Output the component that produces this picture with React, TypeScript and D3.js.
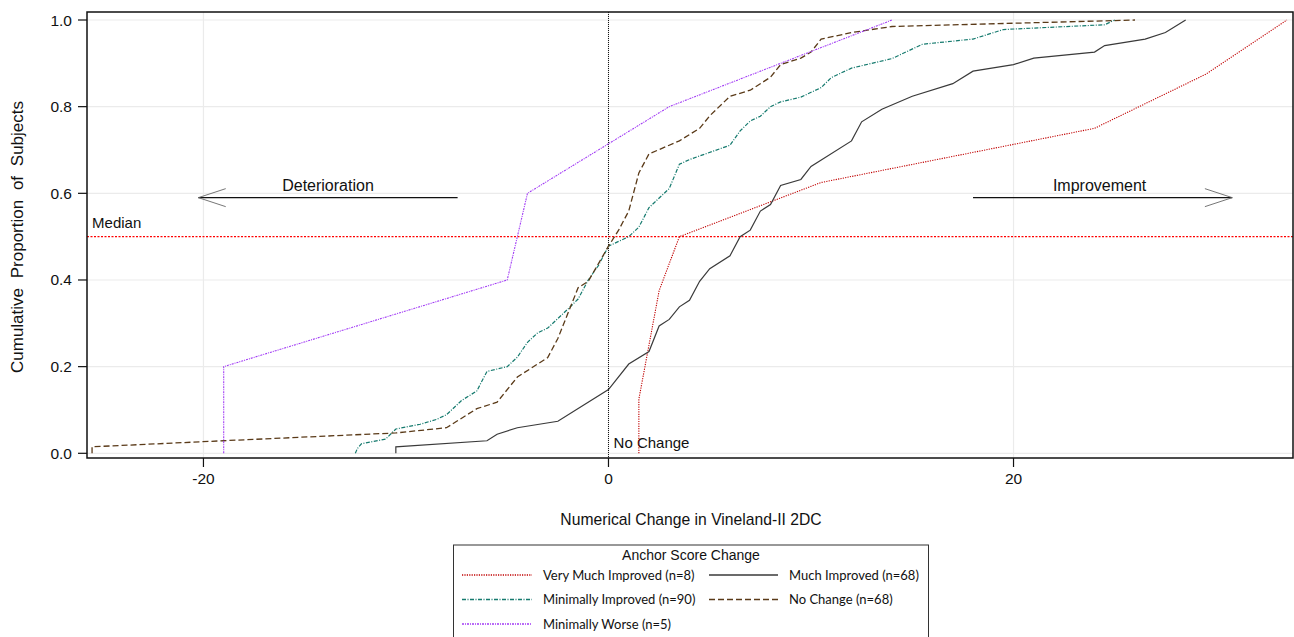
import React from 'react';
import * as d3 from 'd3';

// cumulative distribution by anchor group: change score vs cumulative proportion
const veryMuchX = [1.5, 1.5, 2.0, 2.5, 3.5, 10.5, 24.0, 29.5, 33.5];
const veryMuchY = [0, 0.125, 0.25, 0.375, 0.5, 0.625, 0.75, 0.875, 1.0];

const muchX = [-10.5, -10.5, -6.0, -5.5, -4.5, -2.5, 0, 1.0, 2.0, 2.5, 3.0, 3.5, 4.0, 4.5, 5.0, 6.0, 6.5, 7.0, 7.5, 8.0, 8.5, 9.5, 10.0, 12.0, 12.5, 13.5, 15.0, 17.0, 18.0, 20.0, 21.0, 24.0, 24.5, 26.5, 27.5, 28.5];
const muchY = [0, 0.015, 0.029, 0.044, 0.059, 0.074, 0.147, 0.206, 0.235, 0.294, 0.309, 0.338, 0.353, 0.397, 0.426, 0.456, 0.5, 0.515, 0.559, 0.574, 0.618, 0.632, 0.662, 0.721, 0.765, 0.794, 0.824, 0.853, 0.882, 0.897, 0.912, 0.926, 0.941, 0.956, 0.971, 1.0];

const minImpX = [-12.5, -12.4, -12.2, -11.0, -10.5, -9.3, -8.5, -8.0, -7.25, -6.5, -6.0, -5.0, -4.5, -4.0, -3.5, -3.0, -2.5, -2.0, -1.5, -1.0, -0.5, 0, 1.0, 1.5, 2.0, 3.0, 3.5, 4.0, 6.0, 6.5, 7.0, 7.5, 8.0, 8.5, 9.5, 10.5, 11.0, 12.0, 14.0, 15.5, 18.0, 19.5, 24.5, 25.0];
const minImpY = [0, 0.011, 0.022, 0.033, 0.056, 0.067, 0.078, 0.089, 0.122, 0.144, 0.189, 0.2, 0.222, 0.256, 0.278, 0.289, 0.311, 0.333, 0.356, 0.4, 0.433, 0.478, 0.5, 0.522, 0.567, 0.611, 0.667, 0.678, 0.711, 0.744, 0.767, 0.778, 0.8, 0.811, 0.822, 0.844, 0.867, 0.889, 0.911, 0.944, 0.956, 0.978, 0.989, 1.0];

const noChangeX = [-25.5, -25.5, -19.0, -10.5, -8.0, -6.5, -5.5, -4.5, -3.0, -2.5, -1.5, -1.0, 0, 0.5, 1.0, 1.5, 2.0, 3.5, 4.5, 5.0, 6.0, 7.0, 8.0, 8.5, 9.5, 10.0, 10.5, 12.0, 14.0, 26.0];
const noChangeY = [0, 0.015, 0.029, 0.047, 0.059, 0.103, 0.118, 0.176, 0.221, 0.265, 0.382, 0.397, 0.478, 0.515, 0.559, 0.647, 0.691, 0.721, 0.75, 0.779, 0.824, 0.838, 0.868, 0.897, 0.912, 0.926, 0.956, 0.971, 0.985, 1.0];

const minWorseX = [-19, -19, -5, -4, 3, 14];
const minWorseY = [0, 0.2, 0.4, 0.6, 0.8, 1.0];

const xTicks = [-20, 0, 20];
const yTicks = [0, 0.2, 0.4, 0.6, 0.8, 1.0];

const series = [
  { name: 'Very Much Improved (n=8)', xs: veryMuchX, ys: veryMuchY, color: '#c00000', dash: '1.2,1.2', width: 1.1 },
  { name: 'Much Improved (n=68)', xs: muchX, ys: muchY, color: '#3a3a3a', dash: null, width: 1.2 },
  { name: 'Minimally Improved (n=90)', xs: minImpX, ys: minImpY, color: '#157a6e', dash: '4,1.5,1,1.5', width: 1.2 },
  { name: 'No Change (n=68)', xs: noChangeX, ys: noChangeY, color: '#5a3a18', dash: '6,3', width: 1.3 },
  { name: 'Minimally Worse (n=5)', xs: minWorseX, ys: minWorseY, color: '#a23cf5', dash: '2,1,1,1', width: 1.1 },
];

const W = 1294, H = 637;
const plot = { left: 87, right: 1293, top: 12, bottom: 458 };
const font = '"Liberation Sans", Arial, sans-serif';

export default function App() {
  const x = d3.scaleLinear().domain([-25.75, 33.8]).range([plot.left, plot.right]);
  const y = d3.scaleLinear().domain([0, 1]).range([453.3, 20]);

  const pathFor = (xs: number[], ys: number[]) =>
    d3.line<number>().x(i => x(xs[i])).y(i => y(ys[i]))(xs.map((_, i) => i)) || '';

  const arrowY = y(0.59);
  const legendRows = [[0, 1], [2, 3], [4]];

  return (
    <svg width={W} height={H} style={{ position: 'absolute', left: 0, top: 0, background: '#fff' }} fontFamily={font}>
      {/* grid */}
      {xTicks.map(t => (
        <line key={'gx' + t} x1={x(t)} x2={x(t)} y1={plot.top} y2={plot.bottom} stroke="#ebebeb" strokeWidth={1.2} />
      ))}
      {yTicks.map(t => (
        <line key={'gy' + t} x1={plot.left} x2={plot.right} y1={y(t)} y2={y(t)} stroke="#ebebeb" strokeWidth={1.2} />
      ))}

      {/* reference lines */}
      <line x1={x(0)} x2={x(0)} y1={plot.top} y2={plot.bottom} stroke="#111" strokeWidth={1} strokeDasharray="1,1" />
      <line x1={plot.left} x2={plot.right} y1={y(0.5)} y2={y(0.5)} stroke="#ff0000" strokeWidth={1.2} strokeDasharray="2,1.5" />
      <text x={x(-25.5)} y={y(0.5) - 9} fontSize={15} fill="#111">Median</text>
      <text x={x(0.25)} y={y(0.012)} fontSize={15} fill="#111">No Change</text>

      {/* direction arrows */}
      <line x1={x(-7.45)} x2={x(-20.25)} y1={arrowY} y2={arrowY} stroke="#111" strokeWidth={1.2} />
      <polyline points={`${x(-18.9)},${arrowY - 9} ${x(-20.25)},${arrowY} ${x(-18.9)},${arrowY + 9}`} fill="none" stroke="#666" strokeWidth={0.9} />
      <text x={(x(-7.45) + x(-20.25)) / 2} y={arrowY - 7} fontSize={16} textAnchor="middle" fill="#111">Deterioration</text>
      <line x1={x(18.0)} x2={x(30.8)} y1={arrowY} y2={arrowY} stroke="#111" strokeWidth={1.2} />
      <polyline points={`${x(29.45)},${arrowY - 9} ${x(30.8)},${arrowY} ${x(29.45)},${arrowY + 9}`} fill="none" stroke="#666" strokeWidth={0.9} />
      <text x={x(24.25)} y={arrowY - 7} fontSize={16} textAnchor="middle" fill="#111">Improvement</text>

      {/* curves */}
      {series.map(s => (
        <path key={s.name} d={pathFor(s.xs, s.ys)} fill="none" stroke={s.color} strokeWidth={s.width}
          strokeDasharray={s.dash || undefined} />
      ))}

      {/* frame */}
      <rect x={plot.left} y={plot.top} width={plot.right - plot.left} height={plot.bottom - plot.top} fill="none" stroke="#111" strokeWidth={1.5} />

      {/* y axis */}
      {yTicks.map(t => (
        <g key={'yt' + t}>
          <line x1={plot.left - 9} x2={plot.left} y1={y(t)} y2={y(t)} stroke="#111" strokeWidth={1.2} />
          <text x={plot.left - 15} y={y(t) + 5.5} fontSize={15.5} textAnchor="end" fill="#111">{d3.format('.1f')(t)}</text>
        </g>
      ))}
      <text transform={`translate(23,237) rotate(-90)`} fontSize={17} textAnchor="middle" fill="#111" wordSpacing={5}>
        Cumulative Proportion of Subjects
      </text>

      {/* x axis */}
      {xTicks.map(t => (
        <g key={'xt' + t}>
          <line x1={x(t)} x2={x(t)} y1={plot.bottom} y2={plot.bottom + 9} stroke="#111" strokeWidth={1.2} />
          <text x={x(t)} y={plot.bottom + 26} fontSize={15.5} textAnchor="middle" fill="#111">{t}</text>
        </g>
      ))}
      <text x={691} y={525} fontSize={15.7} textAnchor="middle" fill="#111">Numerical Change in Vineland-II 2DC</text>

      {/* legend */}
      <rect x={453.5} y={545} width={475} height={110} fill="#fff" stroke="#333" strokeWidth={1} />
      <text x={691} y={560} fontSize={14} textAnchor="middle" fill="#111">Anchor Score Change</text>
      {legendRows.map((row, r) => row.map((si, c) => {
        const s = series[si];
        const ly = 575 + r * 24.5;
        const lx = c === 0 ? 462 : 709;
        return (
          <g key={s.name}>
            <line x1={lx} x2={lx + (c === 0 ? 70 : 69)} y1={ly} y2={ly} stroke={s.color} strokeWidth={s.width + 0.2}
              strokeDasharray={s.dash || undefined} />
            <text x={lx + (c === 0 ? 81 : 80)} y={ly + 4.5} fontSize={13} fontFamily='Lato, "Open Sans", sans-serif' fill="#111">{s.name}</text>
          </g>
        );
      }))}
    </svg>
  );
}
